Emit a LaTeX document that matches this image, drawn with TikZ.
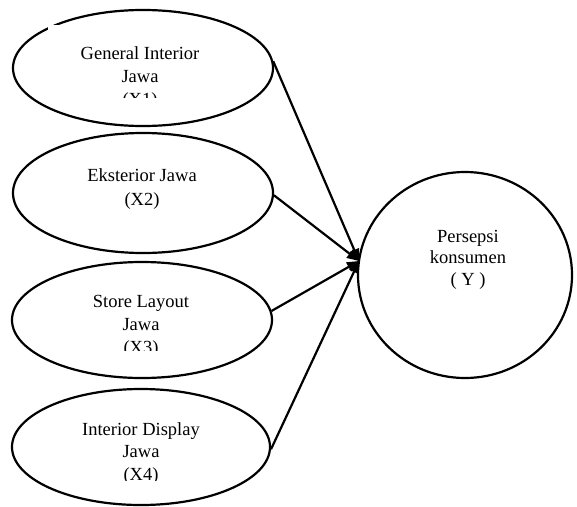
\documentclass[tikz,border=0pt]{standalone}
\usepackage{fontspec}
\setmainfont{Liberation Serif}
\usetikzlibrary{shapes.geometric,arrows.meta}
\begin{document}
\begin{tikzpicture}[x=1pt,y=-1pt,
  oval/.style={draw=black,line width=2.2pt,ellipse,inner sep=0pt},
  lbl/.style={anchor=base,inner sep=0pt,font=\fontsize{18.5}{22}\selectfont},
  conn/.style={line width=2.2pt,-{Triangle[length=12pt,width=10pt]}}]
\useasboundingbox (0,0) rectangle (577,506);
% ellipses
\node[oval,minimum width=260pt,minimum height=116pt] (e1) at (143,68) {};
\node[oval,minimum width=260pt,minimum height=120pt] (e2) at (143,193) {};
\node[oval,minimum width=260pt,minimum height=116pt] (e3) at (142,320) {};
\node[oval,minimum width=258pt,minimum height=116pt] (e4) at (141,447) {};
\node[oval,minimum width=214pt,minimum height=206pt] (y) at (465,275) {};
% white text box covering part of e1 outline
\fill[white] (48,24.5) rectangle (60,40);
% labels
\node[lbl] (t1a) at (140,59) {General Interior};
\node[lbl] (t1b) at (140,82) {Jawa};
\begin{scope}
  \clip (40,86) rectangle (240,97);
  \node[lbl] (t1c) at (140,105) {(X1)};
\end{scope}
\node[lbl] (t2a) at (142,181) {Eksterior Jawa};
\node[lbl] (t2b) at (142,205) {(X2)};
\node[lbl] (t3a) at (141,307) {Store Layout};
\node[lbl] (t3b) at (141,330) {Jawa};
\begin{scope}
  \clip (40,334) rectangle (240,350);
  \node[lbl] (t3c) at (141,353) {(X3)};
\end{scope}
\node[lbl] (t4a) at (141,435) {Interior Display};
\node[lbl] (t4b) at (141,457) {Jawa};
\begin{scope}
  \clip (40,462) rectangle (240,480);
  \node[lbl] (t4c) at (141,480) {(X4)};
\end{scope}
\node[lbl] (tya) at (468,242) {Persepsi};
\node[lbl] (tyb) at (468,263) {konsumen};
\node[lbl] (tyc) at (468,285) {( Y )};
% connectors
\coordinate (tip) at (359,261);
\draw[conn] (e1.3) -- (tip);
\draw[conn] (e2.-1) -- (tip);
\draw[conn] (e3.4) -- (tip);
\draw[conn] (e4.-1) -- (tip);
\end{tikzpicture}
\end{document}
